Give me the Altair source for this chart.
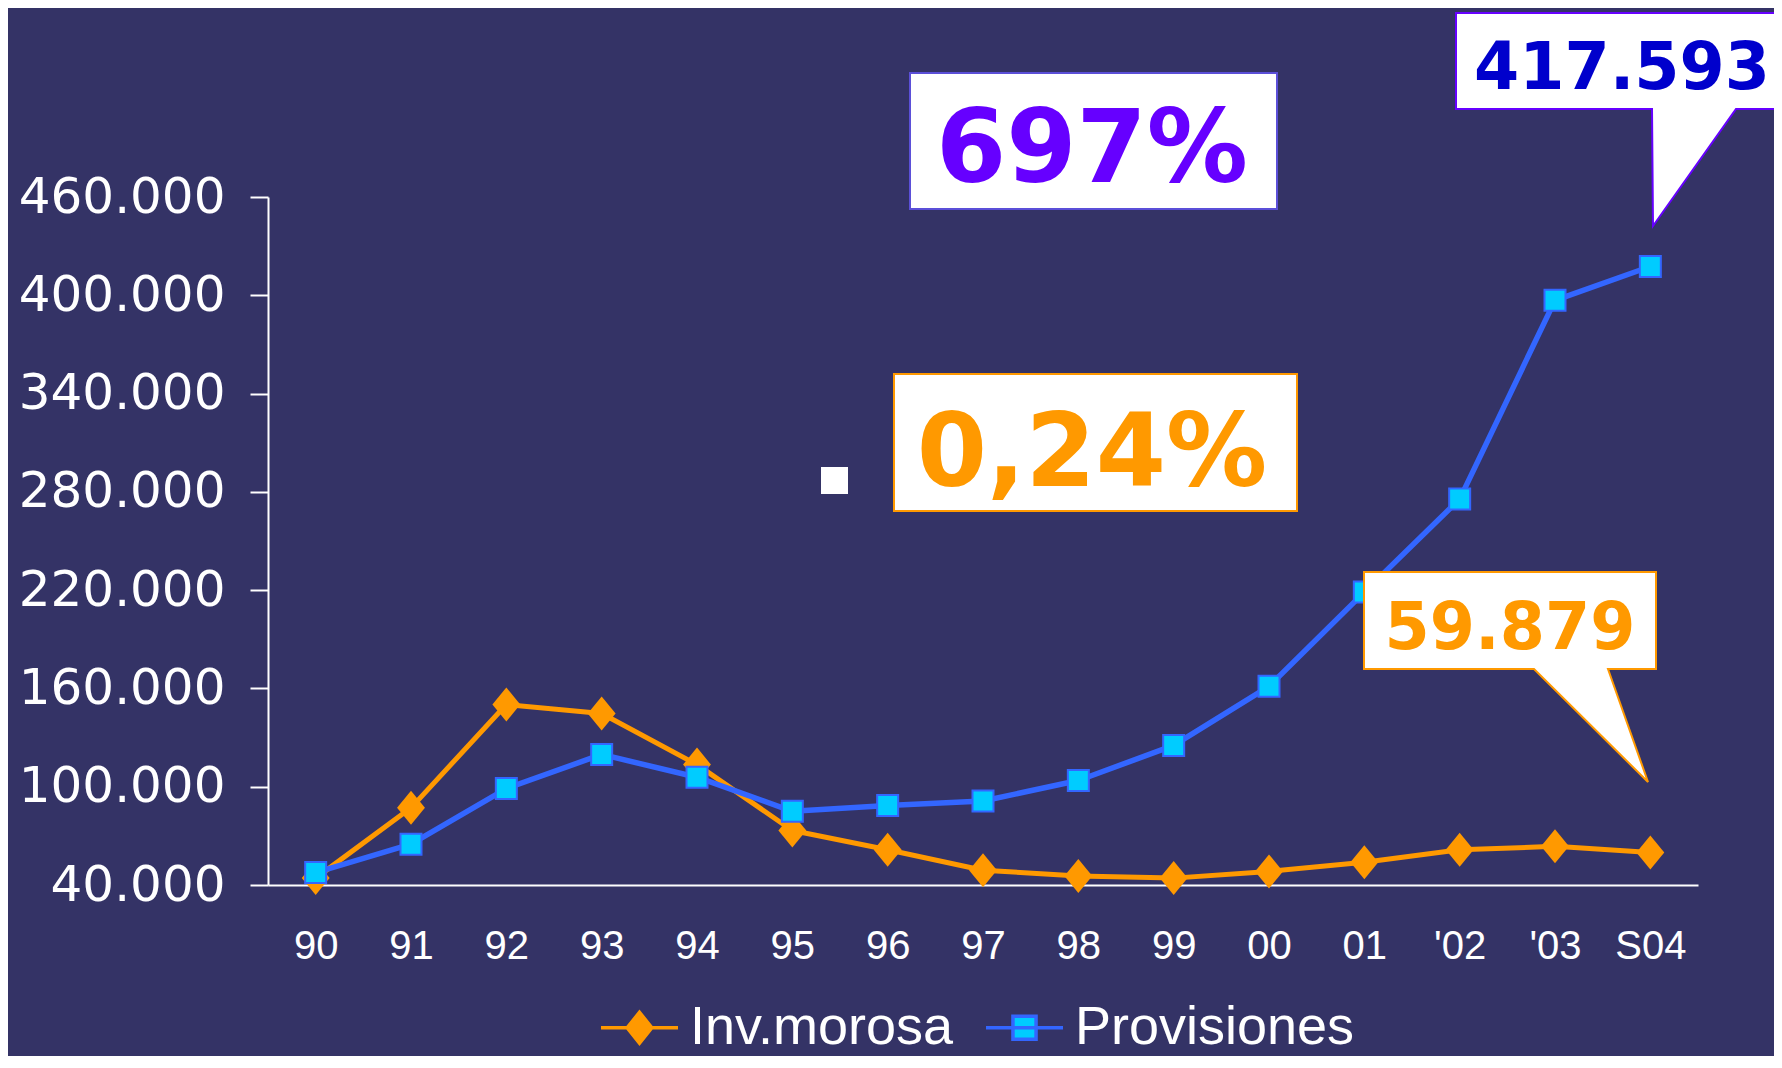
import altair as alt
import pandas as pd

# ---------------- data ----------------
years = ["90", "91", "92", "93", "94", "95", "96", "97", "98", "99", "00", "01", "'02", "'03", "S04"]
morosa = [44200, 87100, 150200, 144700, 113500, 73300, 61500, 49000, 45500, 44200, 48300, 53900, 61500, 63600, 59879]
provisiones = [47600, 64900, 98900, 119700, 105800, 85000, 88500, 91300, 103800, 125200, 161300, 218800, 275600, 396900, 417593]
series_names = ["Inv.morosa", "Provisiones"]
y_ticks = [40000, 100000, 160000, 220000, 280000, 340000, 400000, 460000]

rows = []
for i, yr in enumerate(years):
    rows.append({"year": yr, "serie": series_names[0], "value": morosa[i]})
    rows.append({"year": yr, "serie": series_names[1], "value": provisiones[i]})
df = pd.DataFrame(rows)

# ---------------- style ----------------
BG = "#343366"
ORANGE = "#FF9900"
BLUE = "#3366FF"
CYAN = "#00CCFF"
PURPLE = "#6600FF"
NAVY = "#0000CC"

DIAMOND = "M0,-1L0.82,0L0,1L-0.82,0Z"
LEG_M = "M-1,0H1M0,-0.4L0.32,0L0,0.4L-0.32,0Z"
LEG_P = "M-1,0H1M-0.3,-0.3H0.3V0.3H-0.3Z"

x_enc = alt.X(
    "year:O", sort=years,
    scale=alt.Scale(type="point", padding=0.5),
    axis=alt.Axis(title=None, labelAngle=0, ticks=False, tickSize=0, labelPadding=41,
                  labelFont="Liberation Sans", labelFontSize=40, labelColor="white",
                  domainColor="white", domainWidth=2, grid=False),
)
y_enc = alt.Y(
    "value:Q",
    scale=alt.Scale(domain=[40000, 460000], nice=False, zero=False),
    axis=alt.Axis(title=None, values=y_ticks,
                  labelExpr="replace(format(datum.value, ','), ',', '.')",
                  labelFont="DejaVu Sans", labelFontSize=50, labelColor="white", labelLimit=1000,
                  labelPadding=25, tickSize=18, tickWidth=2, tickColor="white",
                  domainColor="white", domainWidth=2, grid=False),
)

base = alt.Chart(df)

line_m = base.transform_filter("datum.serie == 'Inv.morosa'").mark_line(
    color=ORANGE, strokeWidth=5, strokeJoin="round").encode(x=x_enc, y=y_enc)
pts_m = base.transform_filter("datum.serie == 'Inv.morosa'").mark_point(
    shape=DIAMOND, size=1156, filled=True, fill=ORANGE, strokeOpacity=0, opacity=1
).encode(x=x_enc, y=y_enc)
line_p = base.transform_filter("datum.serie == 'Provisiones'").mark_line(
    color=BLUE, strokeWidth=5.5, strokeJoin="round").encode(x=x_enc, y=y_enc)
pts_p = base.transform_filter("datum.serie == 'Provisiones'").mark_square(
    size=441, filled=True, fill=CYAN, stroke=BLUE, strokeWidth=2, opacity=1
).encode(x=x_enc, y=y_enc)

leg = alt.Legend(orient="none", legendX=331, legendY=790, direction="horizontal", title=None,
                 labelFont="Liberation Sans", labelFontSize=54, labelColor="white", labelLimit=1000,
                 symbolSize=5929, symbolStrokeWidth=3.5, labelOffset=10, columnPadding=25,
                 padding=0, symbolOpacity=1)

legend_layer = base.transform_filter("false").mark_point(
    filled=True, size=5929, strokeWidth=3.5, opacity=1
).encode(
    x=x_enc, y=y_enc,
    shape=alt.Shape("serie:N", scale=alt.Scale(domain=series_names, range=[LEG_M, LEG_P]), legend=leg),
    fill=alt.Fill("serie:N", scale=alt.Scale(domain=series_names, range=[ORANGE, CYAN]), legend=leg),
    stroke=alt.Stroke("serie:N", scale=alt.Scale(domain=series_names, range=[ORANGE, BLUE]), legend=leg),
)

# ---------------- annotations ----------------
one = alt.Chart(pd.DataFrame({"a": [0]}))


def shape_at(path, px, py, fill, stroke, sw=2):
    return one.mark_point(shape=path, size=4, filled=True, fill=fill, stroke=stroke,
                          strokeWidth=sw, opacity=1).encode(x=alt.value(px), y=alt.value(py))


def text_at(txt, px, py, size, color):
    return one.mark_text(text=txt, font="DejaVu Sans", fontWeight="bold", fontSize=size,
                         color=color, align="center", baseline="alphabetic"
                         ).encode(x=alt.value(px), y=alt.value(py))


annotations = [
    shape_at("M0,0H367V136H0Z", 642, -124, "white", "#5B4FD8"),
    text_at("697%", 824, -15, 101, PURPLE),
    shape_at("M0,0H403V137H0Z", 626, 177, "white", ORANGE),
    text_at("0,24%", 824, 289, 101, ORANGE),
    shape_at("M-13.5,-13.5H13.5V13.5H-13.5Z", 566.5, 283.5, "white", "white", 0),
    shape_at("M0,0H340V96H280L197,213L196,96H0Z", 1188, -184, "white", PURPLE),
    text_at("417.593", 1354, -108, 65, NAVY),
    shape_at("M0,0H292V97H244L284,210L170,97H0Z", 1096, 375, "white", ORANGE),
    text_at("59.879", 1242, 452, 65, ORANGE),
]

chart = alt.layer(line_m, pts_m, line_p, pts_p, legend_layer, *annotations).properties(
    width=1430, height=688,
    autosize=alt.AutoSizeParams(type="none"),
    padding={"left": 260, "top": 189, "right": 76, "bottom": 171},
    background=BG,
).configure_view(stroke=None)

chart.save("out.html", embed_options={"renderer": "svg", "actions": False})
